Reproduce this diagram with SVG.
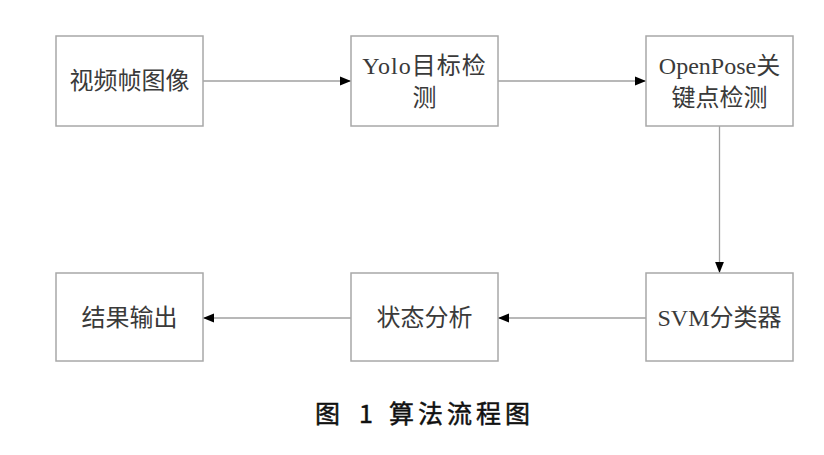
<svg xmlns="http://www.w3.org/2000/svg" width="824" height="455" viewBox="0 0 824 455">
<style>
.box{fill:#fff;stroke:#a8a8a8;stroke-width:1.5}
.t{font-family:"Liberation Serif","Noto Sans CJK SC",serif;font-size:24px;fill:#3a3a3a;text-anchor:middle}
.c{stroke:#a0a0a0;stroke-width:1.3;fill:none;marker-end:url(#ah)}
.cap{font-family:"Noto Sans CJK SC","Liberation Sans",sans-serif;font-size:25px;fill:#111;stroke:#111;stroke-width:0.5}
</style>
<defs>
<marker id="ah" viewBox="0 0 10 10" refX="10" refY="5" markerWidth="11" markerHeight="11" markerUnits="userSpaceOnUse" orient="auto">
<path d="M0,1 L10,5 L0,9 Z" fill="#000"/>
</marker>
</defs>
<rect width="824" height="455" fill="#fff"/>
<g id="connectors">
<line class="c" x1="203" y1="81" x2="351" y2="81"/>
<line class="c" x1="498" y1="81" x2="646" y2="81"/>
<line class="c" x1="719.5" y1="126" x2="719.5" y2="273"/>
<line class="c" x1="646" y1="318" x2="498" y2="318"/>
<line class="c" x1="351" y1="318" x2="203" y2="318"/>
</g>
<g id="n1"><rect class="box" x="56" y="36" width="147" height="90"/><text class="t" x="129.5" y="89">视频帧图像</text></g>
<g id="n2"><rect class="box" x="351" y="36" width="147" height="90"/><text class="t" x="424.5" y="74" letter-spacing="1">Yolo目标检</text><text class="t" x="424.5" y="106">测</text></g>
<g id="n3"><rect class="box" x="646" y="36" width="147" height="90"/><text class="t" x="719.5" y="74">OpenPose关</text><text class="t" x="719.5" y="106">键点检测</text></g>
<g id="n4"><rect class="box" x="646" y="273" width="147" height="88"/><text class="t" x="719.5" y="326">SVM分类器</text></g>
<g id="n5"><rect class="box" x="351" y="273" width="147" height="88"/><text class="t" x="424.5" y="326">状态分析</text></g>
<g id="n6"><rect class="box" x="56" y="273" width="147" height="88"/><text class="t" x="129.5" y="326">结果输出</text></g>
<g id="caption">
<text class="cap" x="315" y="423">图</text>
<text class="cap" x="366" y="423" text-anchor="middle" font-family="Liberation Sans,sans-serif">1</text>
<text class="cap" x="389" y="423" letter-spacing="4">算法流程图</text>
</g>
</svg>
